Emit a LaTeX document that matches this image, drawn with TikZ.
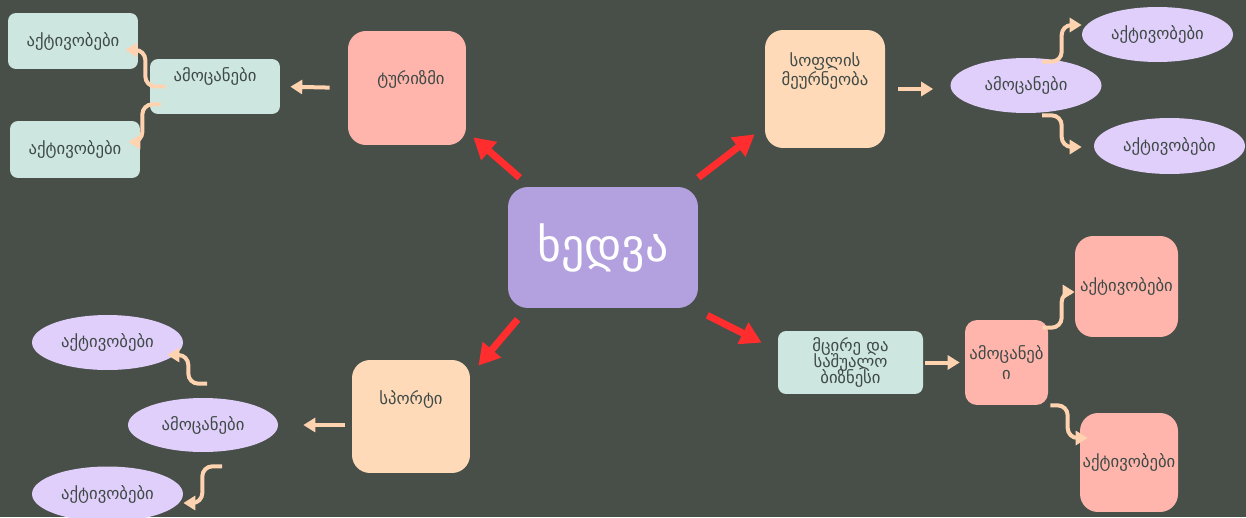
\documentclass[tikz,border=0pt]{standalone}
\usepackage{fontspec}
\setmainfont{DejaVu Sans}
\usetikzlibrary{shapes,arrows.meta,positioning}
\definecolor{bgc}{HTML}{474F48}
\definecolor{txt}{HTML}{3F4A46}
\definecolor{lilac}{HTML}{B3A0DE}
\definecolor{pinkc}{HTML}{FFB5AC}
\definecolor{peachc}{HTML}{FFDAB9}
\definecolor{mintc}{HTML}{CDE6DF}
\definecolor{lavc}{HTML}{E0CFFB}
\definecolor{redc}{HTML}{FF2D2D}
\definecolor{linkc}{HTML}{FFD3B0}

\tikzset{
  box/.style={inner sep=0pt,rounded corners=0.36cm,font=\fontsize{9.5}{11}\selectfont,text=txt,align=center},
  pinkbox/.style={box,fill=pinkc},
  peachbox/.style={box,fill=peachc},
  mintbox/.style={box,fill=mintc,rounded corners=0.16cm},
  oval/.style={ellipse,fill=lavc,inner sep=0pt,minimum width=3.02cm,minimum height=1.1cm,font=\fontsize{9.5}{11}\selectfont,text=txt},
  lbl/.style={font=\fontsize{9.5}{10.4}\selectfont,text=txt,align=center},
  redarrow/.style={draw=redc,line width=0.14cm,-{Triangle[length=0.42cm,width=0.46cm]}},
  link/.style={draw=linkc,line width=0.08cm,rounded corners=0.2cm,-{Triangle[length=0.24cm,width=0.28cm]}}
}

\begin{document}
\begin{tikzpicture}[x=0.02cm,y=-0.02cm]

\useasboundingbox (0,0) rectangle (1246,517);
\fill[bgc] (0,0) rectangle (1246,517);

\node[box,fill=lilac,rounded corners=0.4cm,minimum width=3.8cm,minimum height=2.42cm,text=white,font=\fontsize{26}{30}\selectfont] (c) at (603,247.5) {ხედვა};

\node[pinkbox,minimum width=2.36cm,minimum height=2.28cm,label={[lbl,xshift=0.08cm,yshift=0.18cm]center:ტურიზმი}] (tur) at (407,88) {};
\node[mintbox,minimum width=2.6cm,minimum height=1.1cm,label={[lbl,yshift=0.21cm]center:ამოცანები}] (tam) at (215,86.5) {};
\node[mintbox,minimum width=2.6cm,minimum height=1.12cm] (tak1) at (73,41) {აქტივობები};
\node[mintbox,minimum width=2.6cm,minimum height=1.14cm] (tak2) at (75,149.5) {აქტივობები};

\node[peachbox,minimum width=2.4cm,minimum height=2.36cm,label={[lbl,yshift=0.36cm]center:სოფლის\\მეურნეობა}] (sof) at (825,89) {};
\node[oval] (sam) at (1026,85.5) {ამოცანები};
\node[oval] (sak1) at (1157.5,34.5) {აქტივობები};
\node[oval,minimum height=1.12cm] (sak2) at (1169.5,146) {აქტივობები};

\node[mintbox,minimum width=2.9cm,minimum height=1.26cm] (biz) at (850.5,362.5) {მცირე და\\[-1.8pt]საშუალო\\[-1.8pt]ბიზნესი};
\node[pinkbox,rounded corners=0.24cm,minimum width=1.66cm,minimum height=1.7cm] (bam) at (1006.5,362.5) {ამოცანებ\\ი};
\node[pinkbox,minimum width=2.06cm,minimum height=2.02cm] (bak1) at (1126.5,286.5) {აქტივობები};
\node[pinkbox,minimum width=1.96cm,minimum height=1.98cm] (bak2) at (1129,462.5) {აქტივობები};

\node[peachbox,minimum width=2.36cm,minimum height=2.26cm,label={[lbl,yshift=0.33cm]center:სპორტი}] (spo) at (411,416.5) {};
\node[oval,minimum width=3cm,minimum height=1.08cm] (sam2) at (203,425) {ამოცანები};
\node[oval] (sak3) at (107.5,342.5) {აქტივობები};
\node[oval] (sak4) at (107.5,494) {აქტივობები};

\draw[redarrow] ([shift={(0.24cm,0.18cm)}]c.north west) -- ([shift={(0.14cm,0.16cm)}]tur.south east);
\draw[redarrow] ([yshift=0.18cm]c.north east) -- ([shift={(-0.2cm,0.28cm)}]sof.south west);
\draw[redarrow] ([shift={(0.2cm,-0.22cm)}]c.south west) -- ([shift={(0.16cm,-0.12cm)}]spo.north east);
\draw[redarrow] ([shift={(0.18cm,-0.14cm)}]c.south east) -- ([shift={(-0.32cm,-0.24cm)}]biz.north west);

\draw[link,shorten <=0.36cm,shorten >=0.2cm] (tur.west) -- (tam.east);
\draw[link,shorten <=0.26cm,shorten >=0.34cm] (sof.east) -- (sof.east -| sam.west);
\draw[link,shorten <=0.04cm,shorten >=0.1cm] (biz.east) -- (bam.west);
\draw[link,shorten <=0.14cm,shorten >=0.5cm] (spo.west |- sam2.east) -- (sam2.east);

\draw[link] ([xshift=0.32cm]tam.west) -| ([shift={(0.14cm,-0.18cm)}]tak1.east) -- ([shift={(-0.26cm,-0.18cm)}]tak1.east);
\draw[link] ([shift={(0.22cm,0.2cm)}]tam.south west) -| ([shift={(0.04cm,0.15cm)}]tak2.east) -- ([shift={(-0.24cm,0.15cm)}]tak2.east);
\draw[link] ([shift={(0.32cm,-0.08cm)}]sam.north) -| ([shift={(-0.4cm,0.19cm)}]sak1.west) -- ([yshift=0.19cm]sak1.west);
\draw[link] ([shift={(0.32cm,-0.04cm)}]sam.south) -| ([shift={(-0.64cm,-0.02cm)}]sak2.west) -- ([shift={(-0.24cm,-0.02cm)}]sak2.west);
\draw[link] ([shift={(-0.12cm,-0.16cm)}]bam.north east) -| ([shift={(-0.26cm,-0.11cm)}]bak1.west) -- ([yshift=-0.11cm]bak1.west);
\draw[link] ([xshift=0.04cm]bam.south east) -| ([shift={(-0.24cm,0.49cm)}]bak2.west) -- ([shift={(0.16cm,0.49cm)}]bak2.west);
\draw[link] ([shift={(0.08cm,0.28cm)}]sam2.north) -| ([shift={(0.1cm,-0.25cm)}]sak3.east) -- ([shift={(-0.32cm,-0.25cm)}]sak3.east);
\draw[link] ([shift={(0.38cm,-0.28cm)}]sam2.south) -| ([shift={(0.38cm,-0.18cm)}]sak4.east) -- ([yshift=-0.18cm]sak4.east);

\end{tikzpicture}
\end{document}
